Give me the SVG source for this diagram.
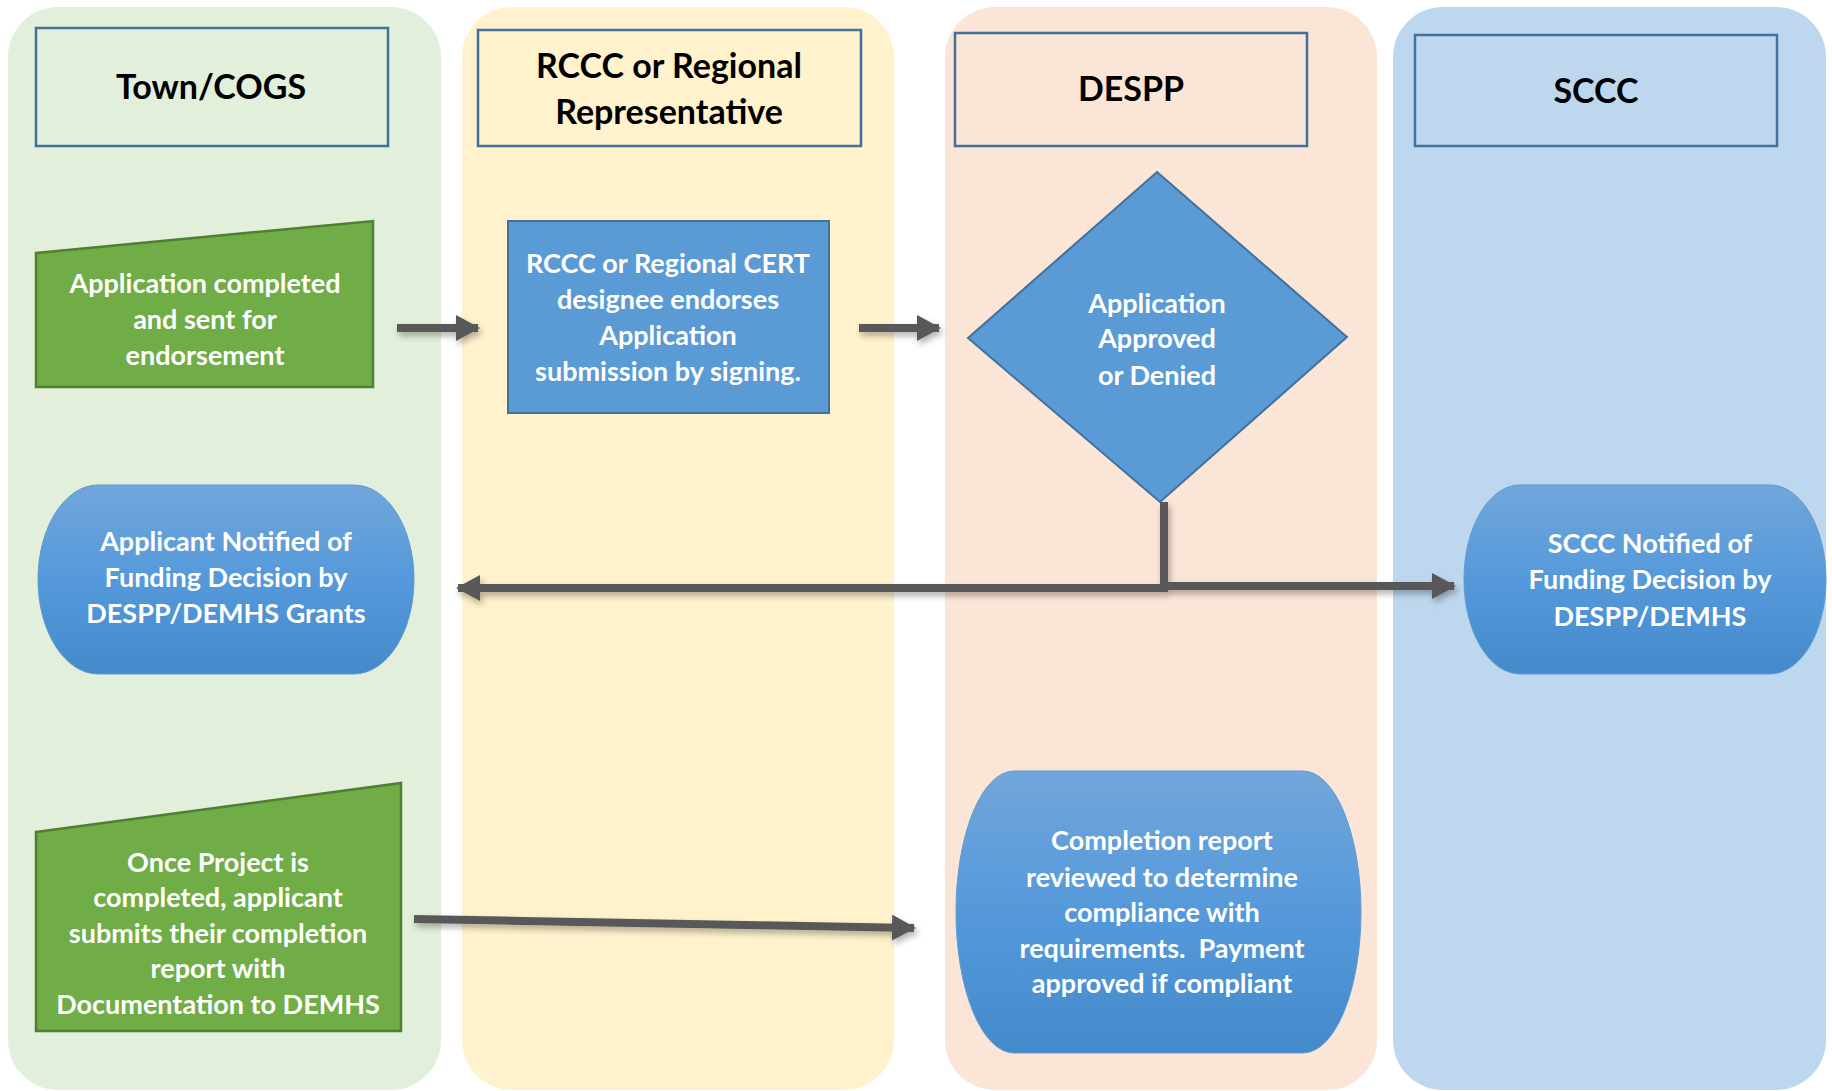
<svg xmlns="http://www.w3.org/2000/svg" width="1832" height="1091" viewBox="0 0 1832 1091">
<style>
.hdr{fill:none;stroke:#41719C;stroke-width:2.5}
.ht{font-family:Lato,"Liberation Sans",sans-serif;font-weight:bold;font-size:34px;fill:#000;text-anchor:middle}
.bt{font-family:Lato,"Liberation Sans",sans-serif;font-weight:bold;font-size:27px;fill:#fff;text-anchor:middle}
.green{fill:#70AD47;stroke:#507E32;stroke-width:2.5}
.blue{fill:#5B9BD5;stroke:#41719C;stroke-width:2}
.term{fill:url(#tg);stroke:#5B9BD5;stroke-width:1}
.conn{fill:none;stroke:#595959;stroke-width:8}
</style>
<defs>
<linearGradient id="tg" x1="0" y1="0" x2="0" y2="1">
<stop offset="0" stop-color="#71A6DB"/>
<stop offset="0.5" stop-color="#5599DA"/>
<stop offset="1" stop-color="#448ACA"/>
</linearGradient>
<filter id="sh" x="-10%" y="-50%" width="130%" height="300%">
<feDropShadow dx="2" dy="4" stdDeviation="3" flood-color="#000" flood-opacity="0.3"/>
</filter>
<marker id="ah" markerUnits="userSpaceOnUse" markerWidth="26" markerHeight="26" refX="22" refY="13" orient="auto">
<path d="M0,0 L24,13 L0,26 Z" fill="#595959"/>
</marker>
</defs>
<rect width="1832" height="1091" fill="#fff"/>
<g id="lanes">
<path id="lane1" d="M8,1090 V57 A50,50 0 0 1 58,7 H391 A50,50 0 0 1 441,57 V1040 A50,50 0 0 1 391,1090 H58 A50,50 0 0 1 8,1040 Z" fill="#E2EFDA"/>
<path id="lane2" d="M462,1040 V57 A50,50 0 0 1 512,7 H844 A50,50 0 0 1 894,57 V1040 A50,50 0 0 1 844,1090 H512 A50,50 0 0 1 462,1040 Z" fill="#FFF2CC"/>
<path id="lane3" d="M945,1040 V57 A50,50 0 0 1 995,7 H1327 A50,50 0 0 1 1377,57 V1040 A50,50 0 0 1 1327,1090 H995 A50,50 0 0 1 945,1040 Z" fill="#FBE5D6"/>
<path id="lane4" d="M1393,1040 V57 A50,50 0 0 1 1443,7 H1776 A50,50 0 0 1 1826,57 V1040 A50,50 0 0 1 1776,1090 H1443 A50,50 0 0 1 1393,1040 Z" fill="#BDD7EE"/>
</g>
<g id="hdr-town"><rect class="hdr" x="36" y="28" width="352" height="118"/><text class="ht" x="211" y="99">Town/COGS</text></g>
<g id="hdr-rccc"><rect class="hdr" x="478" y="30" width="383" height="116"/><text class="ht" x="669" y="78">RCCC or Regional</text><text class="ht" x="669" y="124">Representative</text></g>
<g id="hdr-despp"><rect class="hdr" x="955" y="33" width="352" height="113"/><text class="ht" x="1131" y="101">DESPP</text></g>
<g id="hdr-sccc"><rect class="hdr" x="1415" y="35" width="362" height="111"/><text class="ht" x="1596" y="103">SCCC</text></g>
<g id="connectors" filter="url(#sh)">
<line class="conn" x1="397" y1="328" x2="478" y2="328" marker-end="url(#ah)"/>
<line class="conn" x1="859" y1="328" x2="939" y2="328" marker-end="url(#ah)"/>
<polyline class="conn" points="1164,502 1164,588 458,588" marker-end="url(#ah)"/>
<polyline class="conn" points="1164,586 1454,586" marker-end="url(#ah)"/>
<line class="conn" x1="414" y1="919" x2="914" y2="928" marker-end="url(#ah)"/>
</g>
<g id="n-app"><path class="green" d="M36,253 L373,221 L373,387 L36,387 Z"/>
<text class="bt" x="205" y="293">Application completed</text><text class="bt" x="205" y="329">and sent for</text><text class="bt" x="205" y="365">endorsement</text></g>
<g id="n-endorse"><rect class="blue" x="508" y="221" width="321" height="192"/>
<text class="bt" x="668" y="273">RCCC or Regional CERT</text><text class="bt" x="668" y="309">designee endorses</text><text class="bt" x="668" y="345">Application</text><text class="bt" x="668" y="381">submission by signing.</text></g>
<g id="n-decision"><path class="blue" d="M1157,172 L1347,337 L1160,502 L968,338 Z"/>
<text class="bt" x="1157" y="313">Application</text><text class="bt" x="1157" y="348">Approved</text><text class="bt" x="1157" y="385">or Denied</text></g>
<g id="n-applicant"><rect class="term" x="38" y="485" width="376" height="189" rx="60" ry="94.5"/>
<text class="bt" x="226" y="551">Applicant Notified of</text><text class="bt" x="226" y="587">Funding Decision by</text><text class="bt" x="226" y="623">DESPP/DEMHS Grants</text></g>
<g id="n-sccc"><rect class="term" x="1464" y="485" width="362" height="189" rx="56" ry="94.5"/>
<text class="bt" x="1650" y="553">SCCC Notified of</text><text class="bt" x="1650" y="589">Funding Decision by</text><text class="bt" x="1650" y="626">DESPP/DEMHS</text></g>
<g id="n-submit"><path class="green" d="M36,832 L401,783 L401,1031 L36,1031 Z"/>
<text class="bt" x="218" y="872">Once Project is</text><text class="bt" x="218" y="907">completed, applicant</text><text class="bt" x="218" y="943">submits their completion</text><text class="bt" x="218" y="978">report with</text><text class="bt" x="218" y="1014">Documentation to DEMHS</text></g>
<g id="n-review"><rect class="term" x="956" y="771" width="405" height="282" rx="58" ry="141"/>
<text class="bt" x="1162" y="850">Completion report</text><text class="bt" x="1162" y="887">reviewed to determine</text><text class="bt" x="1162" y="922">compliance with</text><text class="bt" x="1162" y="958">requirements.&#160; Payment</text><text class="bt" x="1162" y="993">approved if compliant</text></g>
</svg>
